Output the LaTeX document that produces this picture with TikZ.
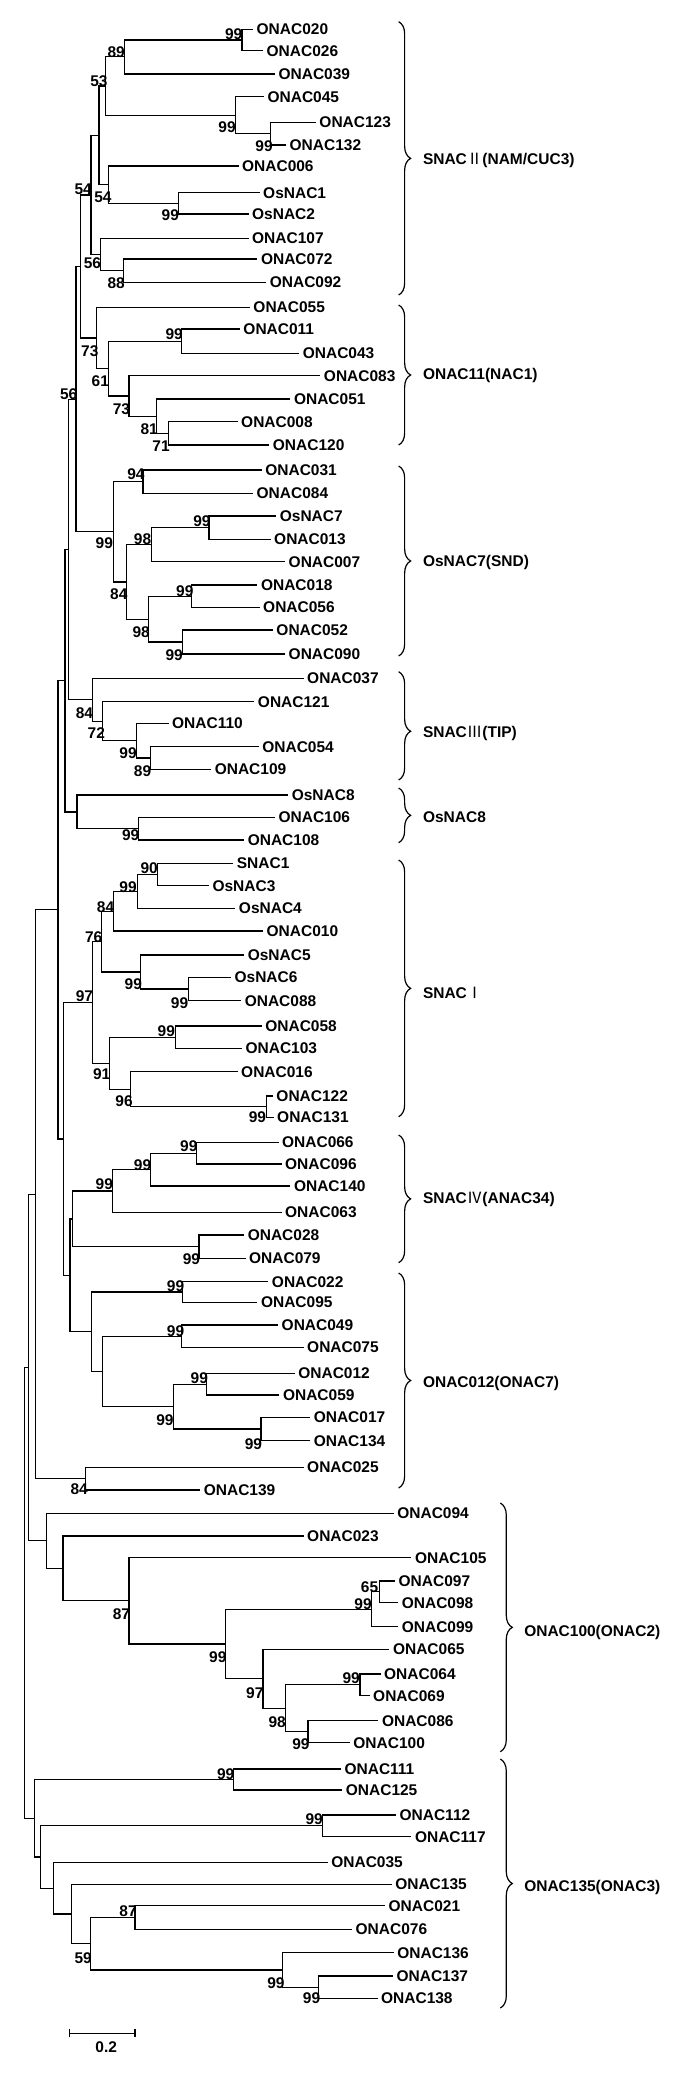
\documentclass[tikz,border=0pt]{standalone}
\usepackage{fontspec}
\newfontfamily\treefont{Liberation Sans}
\newfontfamily\cjk{Noto Sans CJK SC}
\usetikzlibrary{decorations.pathreplacing,arrows.meta}

\begin{document}
\begin{tikzpicture}[x=1.32pt, y=-1pt, line width=1.2pt,
    leaf/.style={anchor=west, inner xsep=3pt, inner ysep=0pt, text height=11pt, text depth=0pt, font=\treefont\bfseries\fontsize{15.5pt}{15.5pt}\selectfont},
    bs/.style={inner sep=0pt, font=\treefont\bfseries\fontsize{15.5pt}{15.5pt}\selectfont},
    grp/.style={anchor=west, inner sep=0pt, text height=11pt, text depth=0pt, font=\treefont\bfseries\fontsize{15.5pt}{15.5pt}\selectfont},
    brc/.style={decorate, decoration={brace, amplitude=12pt}}
]
\useasboundingbox (0,0) rectangle (522.7,2073);

% leaves
\node[leaf] (o020) at (191.7,29.3) {ONAC020};
\node[leaf] (o026) at (199.3,50.7) {ONAC026};
\node[leaf] (o039) at (208.3,74) {ONAC039};
\node[leaf] (o045) at (200,96.7) {ONAC045};
\node[leaf] (o123) at (239.3,122.3) {ONAC123};
\node[leaf] (o132) at (216.7,145) {ONAC132};
\node[leaf] (o006) at (180.7,166) {ONAC006};
\node[leaf] (os1) at (196.7,192.7) {OsNAC1};
\node[leaf] (os2) at (188.3,214) {OsNAC2};
\node[leaf] (o107) at (188.3,238.3) {ONAC107};
\node[leaf] (o072) at (195,259) {ONAC072};
\node[leaf] (o092) at (201.7,282.3) {ONAC092};
\node[leaf] (o055) at (189.3,307.3) {ONAC055};
\node[leaf] (o011) at (181.7,329) {ONAC011};
\node[leaf] (o043) at (226.7,353.3) {ONAC043};
\node[leaf] (o083) at (242.7,375.7) {ONAC083};
\node[leaf] (o051) at (220,399) {ONAC051};
\node[leaf] (o008) at (180,421.7) {ONAC008};
\node[leaf] (o120) at (204,445) {ONAC120};
\node[leaf] (o031) at (198.3,470) {ONAC031};
\node[leaf] (o084) at (191.7,493.3) {ONAC084};
\node[leaf] (os7) at (209.3,516) {OsNAC7};
\node[leaf] (o013) at (205,539.3) {ONAC013};
\node[leaf] (o007) at (216,561.7) {ONAC007};
\node[leaf] (o018) at (195,585) {ONAC018};
\node[leaf] (o056) at (196.7,607.3) {ONAC056};
\node[leaf] (o052) at (206.7,630) {ONAC052};
\node[leaf] (o090) at (216,654) {ONAC090};
\node[leaf] (o037) at (230,678.3) {ONAC037};
\node[leaf] (o121) at (192.7,701.7) {ONAC121};
\node[leaf] (o110) at (127.7,723.3) {ONAC110};
\node[leaf] (o054) at (196,746.7) {ONAC054};
\node[leaf] (o109) at (160,769.3) {ONAC109};
\node[leaf] (os8) at (218.3,795) {OsNAC8};
\node[leaf] (o106) at (208.3,817.3) {ONAC106};
\node[leaf] (o108) at (185,840) {ONAC108};
\node[leaf] (snac1) at (176.7,863.3) {SNAC1};
\node[leaf] (os3) at (158.3,885.7) {OsNAC3};
\node[leaf] (os4) at (178.3,908.3) {OsNAC4};
\node[leaf] (o010) at (199.3,931) {ONAC010};
\node[leaf] (os5) at (185,955) {OsNAC5};
\node[leaf] (os6) at (175,977.3) {OsNAC6};
\node[leaf] (o088) at (182.7,1000.7) {ONAC088};
\node[leaf] (o058) at (198.3,1026) {ONAC058};
\node[leaf] (o103) at (183.3,1048.3) {ONAC103};
\node[leaf] (o016) at (180,1071.7) {ONAC016};
\node[leaf] (o122) at (206.7,1096) {ONAC122};
\node[leaf] (o131) at (207.3,1117.3) {ONAC131};
\node[leaf] (o066) at (211,1142.3) {ONAC066};
\node[leaf] (o096) at (213.3,1164) {ONAC096};
\node[leaf] (o140) at (220,1186) {ONAC140};
\node[leaf] (o063) at (213.3,1212.3) {ONAC063};
\node[leaf] (o028) at (185,1235) {ONAC028};
\node[leaf] (o079) at (186,1258.3) {ONAC079};
\node[leaf] (o022) at (203.3,1281.7) {ONAC022};
\node[leaf] (o095) at (195,1302.3) {ONAC095};
\node[leaf] (o049) at (210.7,1325) {ONAC049};
\node[leaf] (o075) at (230,1347.3) {ONAC075};
\node[leaf] (o012) at (223.3,1373.3) {ONAC012};
\node[leaf] (o059) at (211.7,1395) {ONAC059};
\node[leaf] (o017) at (235,1417.3) {ONAC017};
\node[leaf] (o134) at (235,1440.7) {ONAC134};
\node[leaf] (o025) at (230,1467.3) {ONAC025};
\node[leaf] (o139) at (151.7,1490) {ONAC139};
\node[leaf] (o094) at (298.3,1513.3) {ONAC094};
\node[leaf] (o023) at (230,1536) {ONAC023};
\node[leaf] (o105) at (311.7,1557.7) {ONAC105};
\node[leaf] (o097) at (299.3,1581) {ONAC097};
\node[leaf] (o098) at (301.7,1602.7) {ONAC098};
\node[leaf] (o099) at (301.7,1626.7) {ONAC099};
\node[leaf] (o065) at (295,1649.3) {ONAC065};
\node[leaf] (o064) at (288.3,1674) {ONAC064};
\node[leaf] (o069) at (280,1695.7) {ONAC069};
\node[leaf] (o086) at (286.7,1720.7) {ONAC086};
\node[leaf] (o100) at (265,1742.7) {ONAC100};
\node[leaf] (o111) at (258.3,1769) {ONAC111};
\node[leaf] (o125) at (259.3,1790) {ONAC125};
\node[leaf] (o112) at (300,1815) {ONAC112};
\node[leaf] (o117) at (311.7,1836.7) {ONAC117};
\node[leaf] (o035) at (248.3,1862.3) {ONAC035};
\node[leaf] (o135) at (296.7,1884.3) {ONAC135};
\node[leaf] (o021) at (291.7,1905.7) {ONAC021};
\node[leaf] (o076) at (266.7,1929.3) {ONAC076};
\node[leaf] (o136) at (298.3,1952.7) {ONAC136};
\node[leaf] (o137) at (297.7,1976) {ONAC137};
\node[leaf] (o138) at (286,1998.3) {ONAC138};

% inner nodes
\coordinate (a1) at (183.3,40);
\coordinate (a2) at (94.3,56.5);
\coordinate (a3) at (205,133.7);
\coordinate (a4) at (178.3,115.2);
\coordinate (a5) at (80,85.9);
\coordinate (a6) at (135,203.3);
\coordinate (a7) at (82.3,184.7);
\coordinate (a8) at (75,135.3);
\coordinate (a10) at (93.3,270.7);
\coordinate (a11) at (76,254.5);
\coordinate (a9) at (69,194.9);
\coordinate (b1) at (137.7,341.2);
\coordinate (b2) at (127.7,433.3);
\coordinate (b3) at (118.3,416.2);
\coordinate (b4) at (97.7,396);
\coordinate (b5) at (82.3,368.6);
\coordinate (b6) at (73.3,338);
\coordinate (c1) at (108.3,481.7);
\coordinate (c2) at (158.3,527.7);
\coordinate (c3) at (115,544.7);
\coordinate (c4) at (145,596.2);
\coordinate (c5) at (138.3,642);
\coordinate (c6) at (112.7,619.1);
\coordinate (c7) at (96,581.9);
\coordinate (c8) at (86,531.8);
\coordinate (d1) at (114.3,758);
\coordinate (d2) at (103.3,740.7);
\coordinate (d3) at (77.7,721.2);
\coordinate (d4) at (70,699.8);
\coordinate (e1) at (105,828.7);
\coordinate (e2) at (58.3,811.9);
\coordinate (f1) at (119.3,874.5);
\coordinate (f2) at (104,891.4);
\coordinate (f3) at (86,911.2);
\coordinate (f4) at (142.7,989);
\coordinate (f5) at (106.7,972);
\coordinate (f6) at (76.7,941.6);
\coordinate (f7) at (132.7,1037.2);
\coordinate (f8) at (201.7,1106.7);
\coordinate (f9) at (99,1089.2);
\coordinate (f10) at (82.7,1063.2);
\coordinate (f11) at (70,1002.4);
\coordinate (g1) at (149,1153.2);
\coordinate (g2) at (114,1169.6);
\coordinate (g3) at (85,1191);
\coordinate (g4) at (150.7,1246.7);
\coordinate (g5) at (55,1218.9);
\coordinate (h1) at (138.3,1292);
\coordinate (h2) at (137.7,1336.2);
\coordinate (h3) at (156.7,1384.2);
\coordinate (h4) at (197.7,1429);
\coordinate (h5) at (131.7,1406.6);
\coordinate (h6) at (77.7,1371.4);
\coordinate (h7) at (69.3,1331.7);
\coordinate (h8) at (65,1478.7);
\coordinate (i1) at (287.3,1591.8);
\coordinate (i2) at (281.7,1609.2);
\coordinate (i3) at (272.7,1684.8);
\coordinate (i4) at (233.3,1731.7);
\coordinate (i5) at (216,1708.2);
\coordinate (i6) at (199.3,1678.8);
\coordinate (i7) at (171,1644);
\coordinate (i8) at (97.7,1600.8);
\coordinate (i9) at (47.7,1568.4);
\coordinate (i10) at (35,1540.8);
\coordinate (j1) at (176.7,1779.5);
\coordinate (j2) at (244.3,1825.8);
\coordinate (j3) at (102.3,1917.5);
\coordinate (j4) at (241,1987.2);
\coordinate (j5) at (214.3,1970);
\coordinate (j6) at (68.3,1943.8);
\coordinate (j7) at (54.3,1914);
\coordinate (j8) at (40.7,1888.2);
\coordinate (j9) at (30.7,1857);
\coordinate (j10) at (26,1818.3);
\coordinate (k1) at (61,266.4);
\coordinate (k2) at (57.5,399.1);
\coordinate (k3) at (51.7,549.5);
\coordinate (k4) at (49.3,680.7);
\coordinate (k7) at (53,1275.3);
\coordinate (k6) at (48.3,1138.9);
\coordinate (k5) at (44,909.8);
\coordinate (k8) at (26.7,1194.2);
\coordinate (k9) at (21.7,1367.5);
\coordinate (root) at (18.3,1592.9);

% branches
\draw (a1) |- (o020) (a1) |- (o026);
\draw (a2) |- (a1) (a2) |- (o039);
\draw (a3) |- (o123) (a3) |- (o132);
\draw (a4) |- (o045) (a4) |- (a3);
\draw (a5) |- (a2) (a5) |- (a4);
\draw (a6) |- (os1) (a6) |- (os2);
\draw (a7) |- (o006) (a7) |- (a6);
\draw (a8) |- (a5) (a8) |- (a7);
\draw (a10) |- (o072) (a10) |- (o092);
\draw (a11) |- (o107) (a11) |- (a10);
\draw (a9) |- (a8) (a9) |- (a11);
\draw (b1) |- (o011) (b1) |- (o043);
\draw (b2) |- (o008) (b2) |- (o120);
\draw (b3) |- (o051) (b3) |- (b2);
\draw (b4) |- (o083) (b4) |- (b3);
\draw (b5) |- (b1) (b5) |- (b4);
\draw (b6) |- (o055) (b6) |- (b5);
\draw (k1) |- (a9) (k1) |- (b6);
\draw (c1) |- (o031) (c1) |- (o084);
\draw (c2) |- (os7) (c2) |- (o013);
\draw (c3) |- (c2) (c3) |- (o007);
\draw (c4) |- (o018) (c4) |- (o056);
\draw (c5) |- (o052) (c5) |- (o090);
\draw (c6) |- (c4) (c6) |- (c5);
\draw (c7) |- (c3) (c7) |- (c6);
\draw (c8) |- (c1) (c8) |- (c7);
\draw (k2) |- (k1) (k2) |- (c8);
\draw (d1) |- (o054) (d1) |- (o109);
\draw (d2) |- (o110) (d2) |- (d1);
\draw (d3) |- (o121) (d3) |- (d2);
\draw (d4) |- (o037) (d4) |- (d3);
\draw (k3) |- (k2) (k3) |- (d4);
\draw (e1) |- (o106) (e1) |- (o108);
\draw (e2) |- (os8) (e2) |- (e1);
\draw (k4) |- (k3) (k4) |- (e2);
\draw (f1) |- (snac1) (f1) |- (os3);
\draw (f2) |- (f1) (f2) |- (os4);
\draw (f3) |- (f2) (f3) |- (o010);
\draw (f4) |- (os6) (f4) |- (o088);
\draw (f5) |- (os5) (f5) |- (f4);
\draw (f6) |- (f3) (f6) |- (f5);
\draw (f7) |- (o058) (f7) |- (o103);
\draw (f8) |- (o122) (f8) |- (o131);
\draw (f9) |- (o016) (f9) |- (f8);
\draw (f10) |- (f7) (f10) |- (f9);
\draw (f11) |- (f6) (f11) |- (f10);
\draw (g1) |- (o066) (g1) |- (o096);
\draw (g2) |- (g1) (g2) |- (o140);
\draw (g3) |- (g2) (g3) |- (o063);
\draw (g4) |- (o028) (g4) |- (o079);
\draw (g5) |- (g3) (g5) |- (g4);
\draw (h1) |- (o022) (h1) |- (o095);
\draw (h2) |- (o049) (h2) |- (o075);
\draw (h3) |- (o012) (h3) |- (o059);
\draw (h4) |- (o017) (h4) |- (o134);
\draw (h5) |- (h3) (h5) |- (h4);
\draw (h6) |- (h2) (h6) |- (h5);
\draw (h7) |- (h1) (h7) |- (h6);
\draw (k7) |- (g5) (k7) |- (h7);
\draw (k6) |- (f11) (k6) |- (k7);
\draw (k5) |- (k4) (k5) |- (k6);
\draw (h8) |- (o025) (h8) |- (o139);
\draw (k8) |- (k5) (k8) |- (h8);
\draw (i1) |- (o097) (i1) |- (o098);
\draw (i2) |- (i1) (i2) |- (o099);
\draw (i3) |- (o064) (i3) |- (o069);
\draw (i4) |- (o086) (i4) |- (o100);
\draw (i5) |- (i3) (i5) |- (i4);
\draw (i6) |- (o065) (i6) |- (i5);
\draw (i7) |- (i2) (i7) |- (i6);
\draw (i8) |- (o105) (i8) |- (i7);
\draw (i9) |- (o023) (i9) |- (i8);
\draw (i10) |- (o094) (i10) |- (i9);
\draw (k9) |- (k8) (k9) |- (i10);
\draw (j1) |- (o111) (j1) |- (o125);
\draw (j2) |- (o112) (j2) |- (o117);
\draw (j3) |- (o021) (j3) |- (o076);
\draw (j4) |- (o137) (j4) |- (o138);
\draw (j5) |- (o136) (j5) |- (j4);
\draw (j6) |- (j3) (j6) |- (j5);
\draw (j7) |- (o135) (j7) |- (j6);
\draw (j8) |- (o035) (j8) |- (j7);
\draw (j9) |- (j2) (j9) |- (j8);
\draw (j10) |- (j1) (j10) |- (j9);
\draw (root) |- (k9) (root) |- (j10);

% bootstrap values
\node[bs] (v1) at (177,34) {99};
\node[bs] (v2) at (88,52) {89};
\node[bs] (v3) at (200,146) {99};
\node[bs] (v4) at (172,127) {99};
\node[bs] (v5) at (75,81) {53};
\node[bs] (v6) at (129,215) {99};
\node[bs] (v7) at (78,197.5) {54};
\node[bs] (v8) at (63,189) {54};
\node[bs] (v9) at (88,283) {88};
\node[bs] (v10) at (70,263) {56};
\node[bs] (v11) at (132,334) {99};
\node[bs] (v12) at (122,446) {71};
\node[bs] (v13) at (113,429) {81};
\node[bs] (v14) at (92,409) {73};
\node[bs] (v15) at (76,381) {61};
\node[bs] (v16) at (68,351) {73};
\node[bs] (v17) at (103,474) {94};
\node[bs] (v18) at (153,521) {99};
\node[bs] (v19) at (108,539) {98};
\node[bs] (v20) at (140,591) {99};
\node[bs] (v21) at (132,655) {99};
\node[bs] (v22) at (107,632) {98};
\node[bs] (v23) at (90,594) {84};
\node[bs] (v24) at (79,543) {99};
\node[bs] (v25) at (52,394) {56};
\node[bs] (v26) at (108,771) {89};
\node[bs] (v27) at (97,753) {99};
\node[bs] (v28) at (73,733) {72};
\node[bs] (v29) at (64,713) {84};
\node[bs] (v30) at (99,835) {99};
\node[bs] (v31) at (113,868) {90};
\node[bs] (v32) at (97,887) {99};
\node[bs] (v33) at (80,907) {84};
\node[bs] (v34) at (136,1003) {99};
\node[bs] (v35) at (101,984) {99};
\node[bs] (v36) at (71,937) {76};
\node[bs] (v37) at (126,1031) {99};
\node[bs] (v38) at (195,1117) {99};
\node[bs] (v39) at (94,1101) {96};
\node[bs] (v40) at (77,1074) {91};
\node[bs] (v41) at (64,996) {97};
\node[bs] (v42) at (143,1146) {99};
\node[bs] (v43) at (108,1165) {99};
\node[bs] (v44) at (79,1184) {99};
\node[bs] (v45) at (145,1259) {99};
\node[bs] (v46) at (133,1286) {99};
\node[bs] (v47) at (133,1331) {99};
\node[bs] (v48) at (151,1378) {99};
\node[bs] (v49) at (192,1444) {99};
\node[bs] (v50) at (125,1420) {99};
\node[bs] (v51) at (60,1489) {84};
\node[bs] (v52) at (280,1587) {65};
\node[bs] (v53) at (275,1604) {99};
\node[bs] (v54) at (266,1678) {99};
\node[bs] (v55) at (228,1744) {99};
\node[bs] (v56) at (210,1722) {98};
\node[bs] (v57) at (193,1693) {97};
\node[bs] (v58) at (165,1657) {99};
\node[bs] (v59) at (92,1614) {87};
\node[bs] (v60) at (171,1774) {99};
\node[bs] (v61) at (238,1819) {99};
\node[bs] (v62) at (97,1911) {87};
\node[bs] (v63) at (236,1998) {99};
\node[bs] (v64) at (209,1983) {99};
\node[bs] (v65) at (63,1958) {59};

% groups
\coordinate (t1) at (302,21.7);   \coordinate (u1) at (302,295);
\coordinate (t2) at (302,305);    \coordinate (u2) at (302,445);
\coordinate (t3) at (302,466);    \coordinate (u3) at (302,656);
\coordinate (t4) at (302,671.7);  \coordinate (u4) at (302,780);
\coordinate (t5) at (302,788);    \coordinate (u5) at (302,842.7);
\coordinate (t6) at (302,860);    \coordinate (u6) at (302,1116.7);
\coordinate (t7) at (302,1135);   \coordinate (u7) at (302,1262.7);
\coordinate (t8) at (302,1273);   \coordinate (u8) at (302,1488);
\coordinate (t9) at (379,1503);   \coordinate (u9) at (379,1751.7);
\coordinate (t10) at (379,1759);  \coordinate (u10) at (379,2008);
\draw[brc] (t1) -- (u1);
\draw[brc] (t2) -- (u2);
\draw[brc] (t3) -- (u3);
\draw[brc, decoration={aspect=0.55}] (t4) -- (u4);
\draw[brc] (t5) -- (u5);
\draw[brc] (t6) -- (u6);
\draw[brc] (t7) -- (u7);
\draw[brc] (t8) -- (u8);
\draw[brc] (t9) -- (u9);
\draw[brc] (t10) -- (u10);
\node[grp] (gSNII) at (320,159) {SNAC{\cjk\mdseries Ⅱ}(NAM/CUC3)};
\node[grp] (gNAC1) at (320,374) {ONAC11(NAC1)};
\node[grp] (gSND) at (320,561) {OsNAC7(SND)};
\node[grp] (gTIP) at (320,732) {SNAC{\cjk\mdseries Ⅲ}(TIP)};
\node[grp] (gOs8) at (320,817) {OsNAC8};
\node[grp] (gSNI) at (320,993) {SNAC{\cjk\mdseries Ⅰ}};
\node[grp] (gSNIV) at (320,1198) {SNAC{\cjk\mdseries Ⅳ}(ANAC34)};
\node[grp] (gO7) at (320,1382) {ONAC012(ONAC7)};
\node[grp] (gO2) at (396.7,1631) {ONAC100(ONAC2)};
\node[grp] (gO3) at (396.7,1886) {ONAC135(ONAC3)};

% scale bar
\coordinate (sbl) at (52.3,2033.3);
\coordinate (sbr) at (102.7,2033.3);
\draw[{Bar[width=8pt]}-{Bar[width=8pt]}] (sbl) -- (sbr);
\node[bs] (sbt) at (80.5,2047.5) {0.2};
\end{tikzpicture}
\end{document}
